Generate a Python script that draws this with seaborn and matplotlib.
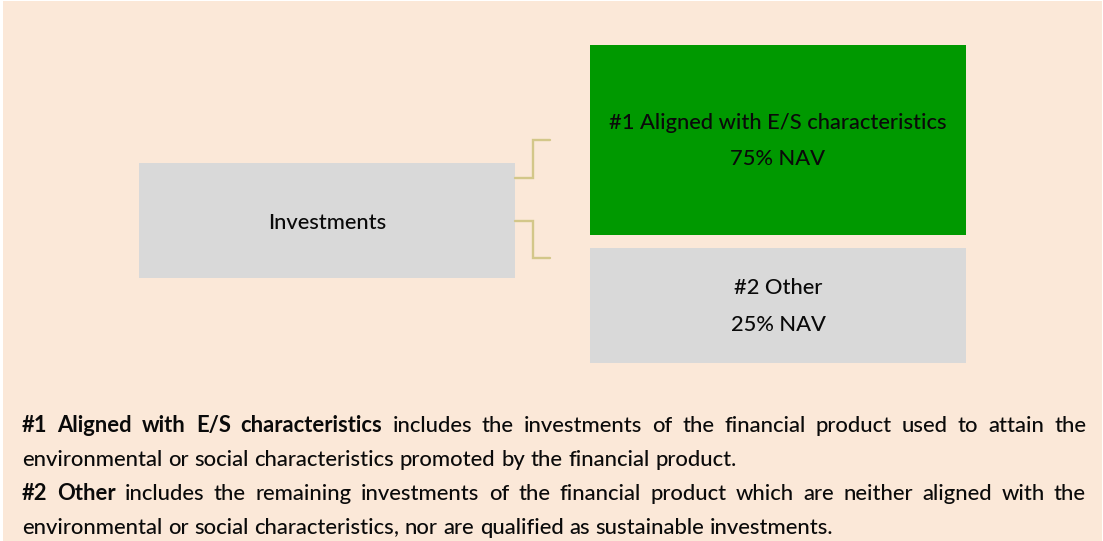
import matplotlib
matplotlib.use("Agg")
import matplotlib.pyplot as plt
import seaborn as sns
from matplotlib.patches import Rectangle

# ---- data -------------------------------------------------------------
root_label = "Investments"
categories = ["#1 Aligned with E/S characteristics", "#2 Other"]
nav_share = [75, 25]
note_terms = ["#1 Aligned with E/S characteristics", "#2 Other"]
note_texts = [
    "includes the investments of the financial product used to attain the "
    "environmental or social characteristics promoted by the financial product.",
    "includes the remaining investments of the financial product which are neither "
    "aligned with the environmental or social characteristics, nor are qualified as "
    "sustainable investments.",
]

# ---- style ------------------------------------------------------------
sns.set_theme(style="white")
plt.rcParams['font.family'] = ['Lato', 'DejaVu Sans']

BG = "#FBE8D8"
GREEN = "#009900"
GREY = "#D9D9D9"
LINK = "#D3C789"
TXT = "#0A0A0A"
REG = 500

W, H = 1103, 541
fig = plt.figure(figsize=(W / 100, H / 100), dpi=100)
fig.patch.set_facecolor("white")
ax = fig.add_axes([0, 0, 1, 1])
ax.set_xlim(0, W)
ax.set_ylim(H, 0)
ax.axis("off")
ax.add_patch(Rectangle((3, 1), W - 4, H, facecolor=BG, edgecolor="none", zorder=0))

fig.canvas.draw()
renderer = fig.canvas.get_renderer()


def width_of(s, size, weight=REG):
    t = ax.text(0, 0, s, fontsize=size, fontweight=weight)
    w = t.get_window_extent(renderer).width
    t.remove()
    return w


# font sizes fitted to reference text widths
box_size = 0.5 * (20 * 119 / width_of(root_label, 20) +
                  20 * 334 / width_of(categories[0], 20))
body_size = 20 * 809 / width_of(
    "environmental or social characteristics, nor are qualified as sustainable investments.", 20)

# ---- boxes --------------------------------------------------------------
root_box = (139, 163, 515, 278)
child_boxes = [(590, 45, 966, 235), (590, 248, 966, 363)]
child_colors = [GREEN, GREY]

x0, y0, x1, y1 = root_box
ax.add_patch(Rectangle((x0, y0), x1 - x0, y1 - y0, facecolor=GREY, edgecolor="none", zorder=1))
ax.text((x0 + x1) / 2, 229, root_label, ha="center", va="baseline",
        fontsize=box_size, fontweight=REG, color=TXT, zorder=3)

child_baselines = [(129, 165), (294, 331)]
for (bx0, by0, bx1, by1), col, cat, share, (b1, b2) in zip(
        child_boxes, child_colors, categories, nav_share, child_baselines):
    ax.add_patch(Rectangle((bx0, by0), bx1 - bx0, by1 - by0, facecolor=col,
                           edgecolor="none", zorder=1))
    cx = (bx0 + bx1) / 2
    ax.text(cx, b1, cat, ha="center", va="baseline", fontsize=box_size,
            fontweight=REG, color=TXT, zorder=3)
    ax.text(cx, b2, f"{share}% NAV", ha="center", va="baseline", fontsize=box_size,
            fontweight=REG, color=TXT, zorder=3)

# connectors
ax.plot([515, 533, 533, 550], [178, 178, 140, 140], color=LINK, lw=1.7,
        solid_joinstyle="miter", zorder=2)
ax.plot([515, 533, 533, 550], [221, 221, 258, 258], color=LINK, lw=1.7,
        solid_joinstyle="miter", zorder=2)

# ---- justified notes --------------------------------------------------------
LEFT, RIGHT = 22, 1086
avail = RIGHT - LEFT
space_w = 0.26 * body_size * 100 / 72
baselines = [432, 466, 500, 534]


def draw_word(x, y, w, wt):
    # draw trailing commas separately so the word keeps a clean baseline
    if w.endswith(",") and len(w) > 1:
        core = w[:-1]
        ax.text(x, y, core, ha="left", va="baseline", fontsize=body_size,
                fontweight=wt, color=TXT, zorder=3)
        cw = width_of(core, body_size, wt)
        ax.text(x + cw, y, ",", ha="left", va="baseline",
                fontsize=body_size, fontweight=wt, color=TXT, zorder=3)
        return
    ax.text(x, y, w, ha="left", va="baseline", fontsize=body_size,
            fontweight=wt, color=TXT, zorder=3)


line_i = 0
for term, body in zip(note_terms, note_texts):
    tokens = [(w, "bold") for w in term.split()] + [(w, REG) for w in body.split()]
    widths = [width_of(w, body_size, wt) for w, wt in tokens]
    lines = []
    cur, cur_w = [], 0
    for tok, tw in zip(tokens, widths):
        add = tw if not cur else cur_w + space_w + tw
        if cur and add > avail:
            lines.append(cur)
            cur, cur_w = [(tok, tw)], tw
        else:
            cur.append((tok, tw))
            cur_w = add
    if cur:
        lines.append(cur)
    for k, ln in enumerate(lines):
        y = baselines[min(line_i, len(baselines) - 1)]
        total = sum(tw for _, tw in ln)
        last = k == len(lines) - 1
        gap = space_w if (last or len(ln) == 1) else (avail - total) / (len(ln) - 1)
        x = LEFT
        for (w, wt), tw in ln:
            draw_word(x, y, w, wt)
            x += tw + gap
        line_i += 1

fig.savefig("out.png", dpi=100, facecolor=fig.get_facecolor())
